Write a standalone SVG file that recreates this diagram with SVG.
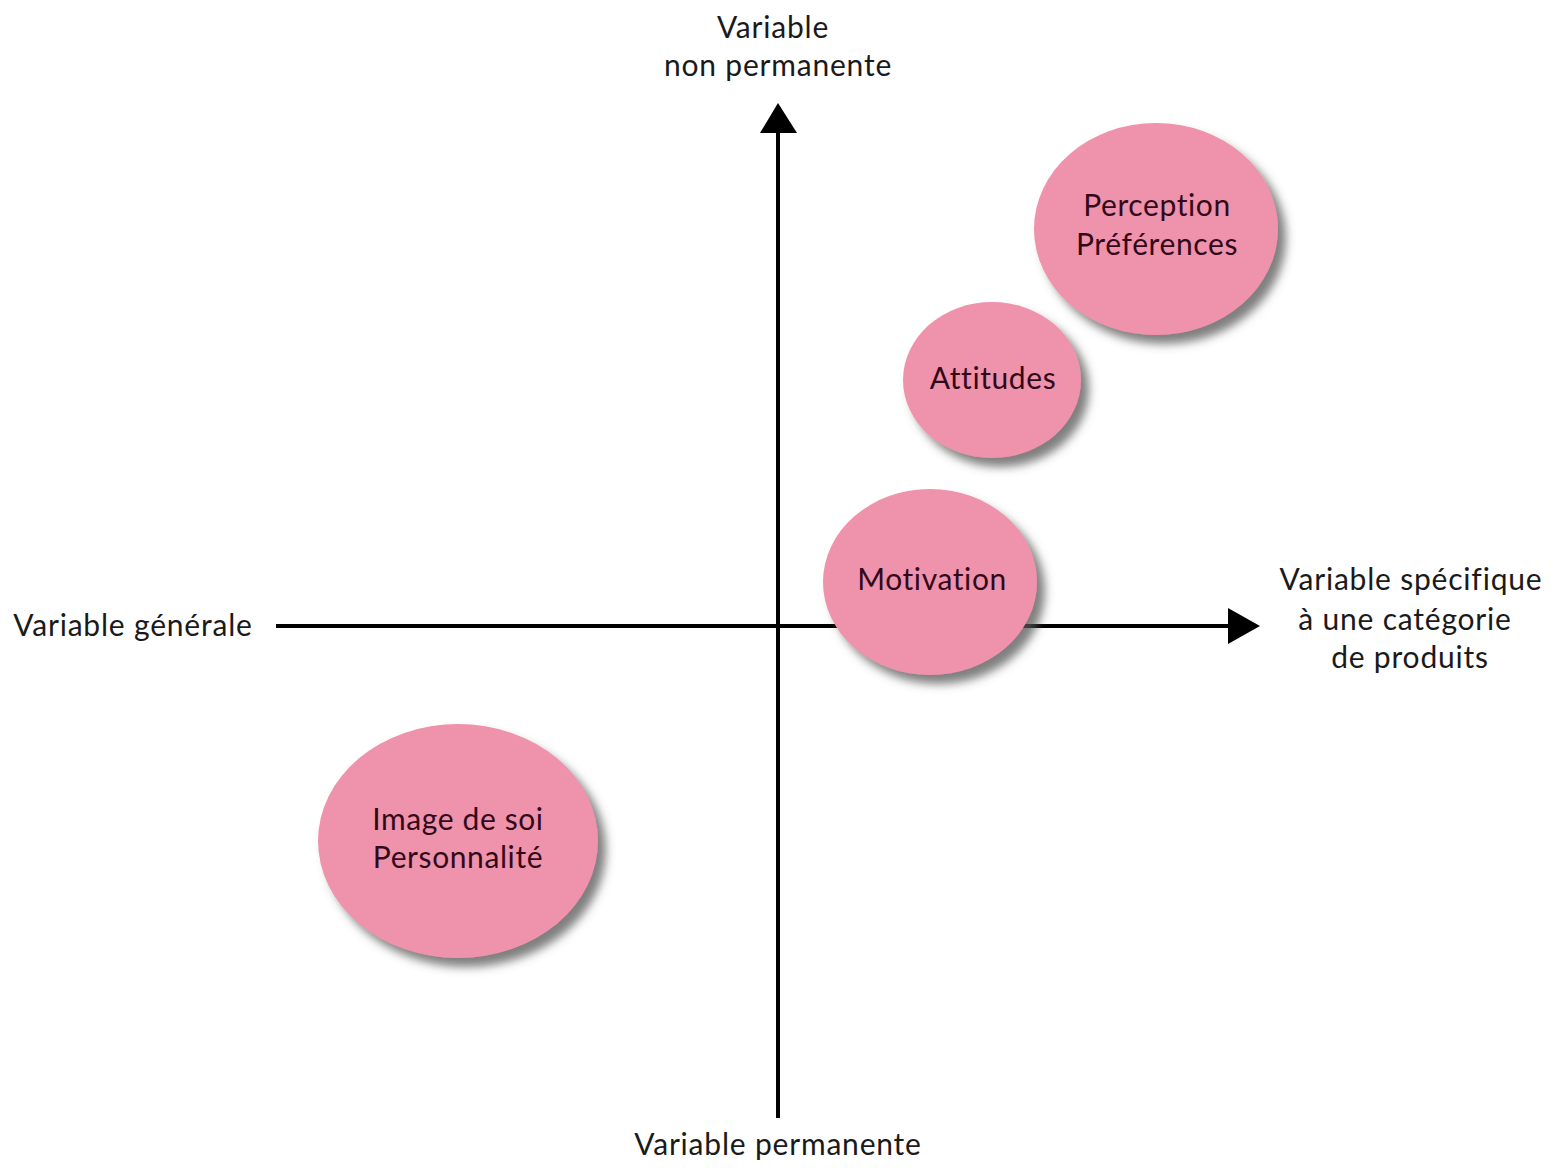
<svg xmlns="http://www.w3.org/2000/svg" width="1564" height="1170" viewBox="0 0 1564 1170">
<defs>
<filter id="sh" x="-20%" y="-20%" width="150%" height="150%">
<feGaussianBlur in="SourceAlpha" stdDeviation="5"/>
<feOffset dx="8" dy="9" result="b"/>
<feFlood flood-color="#555" flood-opacity="0.75"/>
<feComposite in2="b" operator="in"/>
<feMerge><feMergeNode/><feMergeNode in="SourceGraphic"/></feMerge>
</filter>
</defs>
<style>
.ax{stroke:#000;stroke-width:4;fill:none}
.hd{fill:#000}
.lbl{font-family:"Lato","Open Sans","Liberation Sans",sans-serif;font-size:30px;letter-spacing:0.8px;fill:#1a1a1a;text-anchor:middle}
.nd{fill:#EF92AC;filter:url(#sh)}
.nt{font-family:"Lato","Open Sans","Liberation Sans",sans-serif;font-size:30px;letter-spacing:0.6px;fill:#33091a;text-anchor:middle}
</style>
<rect width="1564" height="1170" fill="#fff"/>
<g id="connectors">
<line class="ax" x1="778" y1="1118" x2="778" y2="130"/>
<polygon class="hd" points="778,103 797,133 760,133"/>
<line class="ax" x1="276" y1="626" x2="1230" y2="626"/>
<polygon class="hd" points="1260,626 1228,608 1228,644"/>
</g>
<g id="labels">
<text class="lbl" x="773" y="38">Variable</text>
<text class="lbl" x="778" y="76">non permanente</text>
<text class="lbl" x="133" y="636">Variable générale</text>
<text class="lbl" x="1411" y="590">Variable spécifique</text>
<text class="lbl" x="1405" y="630">à une catégorie</text>
<text class="lbl" x="1410" y="668">de produits</text>
<text class="lbl" x="778" y="1155">Variable permanente</text>
</g>
<g id="perception">
<ellipse class="nd" cx="1156" cy="229" rx="122" ry="106"/>
<text class="nt" x="1157" y="216">Perception</text>
<text class="nt" x="1157" y="255">Préférences</text>
</g>
<g id="attitudes">
<ellipse class="nd" cx="992" cy="380" rx="89" ry="78"/>
<text class="nt" x="993" y="389">Attitudes</text>
</g>
<g id="motivation">
<ellipse class="nd" cx="930" cy="582" rx="107" ry="93"/>
<text class="nt" x="932" y="590">Motivation</text>
</g>
<g id="image">
<ellipse class="nd" cx="458" cy="841" rx="140" ry="117"/>
<text class="nt" x="458" y="830">Image de soi</text>
<text class="nt" x="458" y="868">Personnalité</text>
</g>
</svg>
